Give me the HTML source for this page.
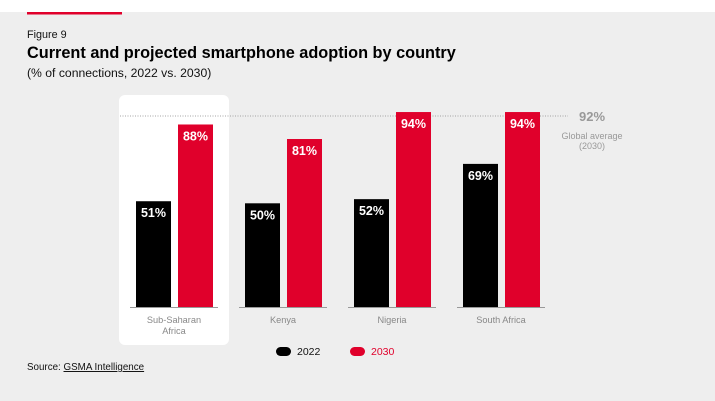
<!DOCTYPE html>
<html><head><meta charset="utf-8"><style>
body{margin:0;width:715px;height:401px;background:#fff;font-family:"Liberation Sans",sans-serif;overflow:hidden}
#bg{position:absolute;left:0;top:12px;width:715px;height:389px;background:#eeeeee}
</style></head><body>
<div id="bg"></div>
<svg width="715" height="401" style="position:absolute;left:0;top:0">
<rect x="27" y="12" width="95" height="2.5" fill="#e0002b"/>
<text x="27" y="38" font-size="10.8" fill="#111">Figure 9</text>
<text x="27" y="58" font-size="16.3" font-weight="bold" fill="#000">Current and projected smartphone adoption by country</text>
<text x="27" y="77" font-size="12.2" fill="#111">(% of connections, 2022 vs. 2030)</text>
<rect x="119" y="95" width="110" height="250" rx="6" fill="#fff"/>
<line x1="120" y1="116" x2="568" y2="116" stroke="#888" stroke-width="0.8" stroke-dasharray="1,1.5"/>
<text x="592" y="121" font-size="13" font-weight="bold" fill="#999" text-anchor="middle">92%</text>
<text x="592" y="139" font-size="9" fill="#999" text-anchor="middle">Global average</text>
<text x="592" y="149" font-size="9" fill="#999" text-anchor="middle">(2030)</text>
<g id="bars"></g>
<rect x="276" y="347" width="15" height="9" rx="4.5" fill="#000"/>
<text x="297" y="355" font-size="10.5" fill="#111">2022</text>
<rect x="350" y="347" width="15" height="9" rx="4.5" fill="#e0002b"/>
<text x="371" y="355" font-size="10.5" fill="#e0002b">2030</text>
<text x="27" y="370" font-size="9.8" fill="#111">Source: <tspan text-decoration="underline">GSMA Intelligence</tspan></text>
</svg>
<script>
const categories=[["Sub-Saharan","Africa"],["Kenya"],["Nigeria"],["South Africa"]];
const values2022=[51,50,52,69];
const values2030=[88,81,94,94];
const NS="http://www.w3.org/2000/svg";
const g=document.getElementById("bars");
const base=307, scale=2.074;
function y(v){return base-v*scale;}
function gx(i){return 136+i*109;}
function mk(t,a){const e=document.createElementNS(NS,t);for(const k in a)e.setAttribute(k,a[k]);g.appendChild(e);return e;}
categories.forEach((c,i)=>{
  const x=gx(i);
  const l=mk("line",{x1:x-6,y1:base+0.5,x2:x+82,y2:base+0.5,stroke:"#999","stroke-width":1});
  
  
  [[values2022[i],x,"#000","2022"],[values2030[i],x+42,"#e0002b","2030"]].forEach(([v,bx,col,yr])=>{
    const r=mk("rect",{x:bx,y:y(v),width:35,height:v*scale,fill:col});
    
    
    const t=mk("text",{x:bx+17.5,y:y(v)+16,"font-size":12.5,"font-weight":"bold",fill:"#fff","text-anchor":"middle"});
    t.textContent=v+"%";
    
    
  });
  c.forEach((s,j)=>{
    const t=mk("text",{x:x+38,y:323+j*11,"font-size":9.2,fill:"#888","text-anchor":"middle"});
    t.textContent=s;
    
    
  });
});
</script>
</body></html>
